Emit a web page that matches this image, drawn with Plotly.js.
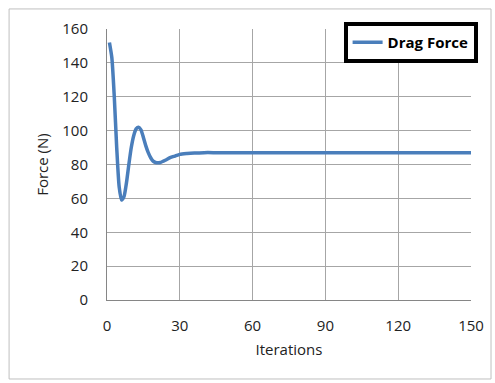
<!DOCTYPE html>
<html>
<head>
<meta charset="utf-8">
<script src="https://cdn.plot.ly/plotly-3.0.1.min.js"></script>
<style>html,body{margin:0;padding:0;background:#fff;}#chart{width:495px;height:383px;}</style>
</head>
<body>
<div id="chart"></div>
<script>
const iterations = [1, 2, 3, 4, 5, 6, 7, 8, 9, 10, 11, 12, 13, 14, 15, 16, 17, 18, 19, 20, 21, 22, 24, 26, 28, 30, 33, 36, 40, 45, 50, 60, 80, 100, 120, 150];
const dragForce = [152, 143, 120, 90, 67, 59, 61, 69, 80, 90, 97, 101, 102, 100.5, 96, 91, 87, 84, 82, 81.2, 81, 81.2, 82.5, 84, 85, 86, 86.5, 86.8, 87, 87, 87, 87, 87, 87, 87, 87];
const seriesName = 'Drag Force';
const xTicks = [0, 30, 60, 90, 120, 150];
const yTicks = [0, 20, 40, 60, 80, 100, 120, 140, 160];

const font = {family: 'Open Sans, Liberation Sans, sans-serif', size: 15, color: '#222'};
const data = [{
  x: iterations, y: dragForce, name: seriesName, type: 'scatter', mode: 'lines',
  line: {color: '#4a7ebb', width: 3.5, shape: 'spline', smoothing: 0.6},
  showlegend: true
}];
const layout = {
  width: 495, height: 383,
  margin: {l: 107, r: 24, t: 29, b: 83},
  paper_bgcolor: '#fff', plot_bgcolor: '#fff',
  font: font,
  xaxis: {
    range: [0, 150], tickvals: xTicks, ticktext: xTicks.map(String),
    showgrid: true, gridcolor: '#a6a6a6', gridwidth: 1,
    showline: true, linecolor: '#868686', linewidth: 1, zeroline: false,
    ticks: 'outside', ticklen: 12, tickcolor: 'rgba(0,0,0,0)',
    title: {text: 'Iterations', font: font, standoff: 10},
    fixedrange: true
  },
  yaxis: {
    range: [0, 160], tickvals: yTicks, ticktext: yTicks.map(String),
    showgrid: true, gridcolor: '#a6a6a6', gridwidth: 1,
    showline: true, linecolor: '#868686', linewidth: 1, zeroline: false,
    ticks: 'outside', ticklen: 15, tickcolor: 'rgba(0,0,0,0)',
    title: {text: 'Force (N)', font: font, standoff: 10},
    fixedrange: true
  },
  legend: {
    x: 0.65, y: 1.026, xanchor: 'left', yanchor: 'top',
    bordercolor: '#000', borderwidth: 4, bgcolor: '#fff',
    font: {family: 'Open Sans, Liberation Sans, sans-serif', size: 15, color: '#000', weight: 'bold'}
  },
  shapes: [{
    type: 'rect', xref: 'paper', yref: 'paper',
    x0: -0.269, x1: 1.055, y0: -0.2915, y1: 1.074,
    line: {color: '#bfbfbf', width: 1}, fillcolor: 'rgba(0,0,0,0)', layer: 'below'
  }]
};
Plotly.newPlot('chart', data, layout, {displayModeBar: false, staticPlot: true});
</script>
</body>
</html>
